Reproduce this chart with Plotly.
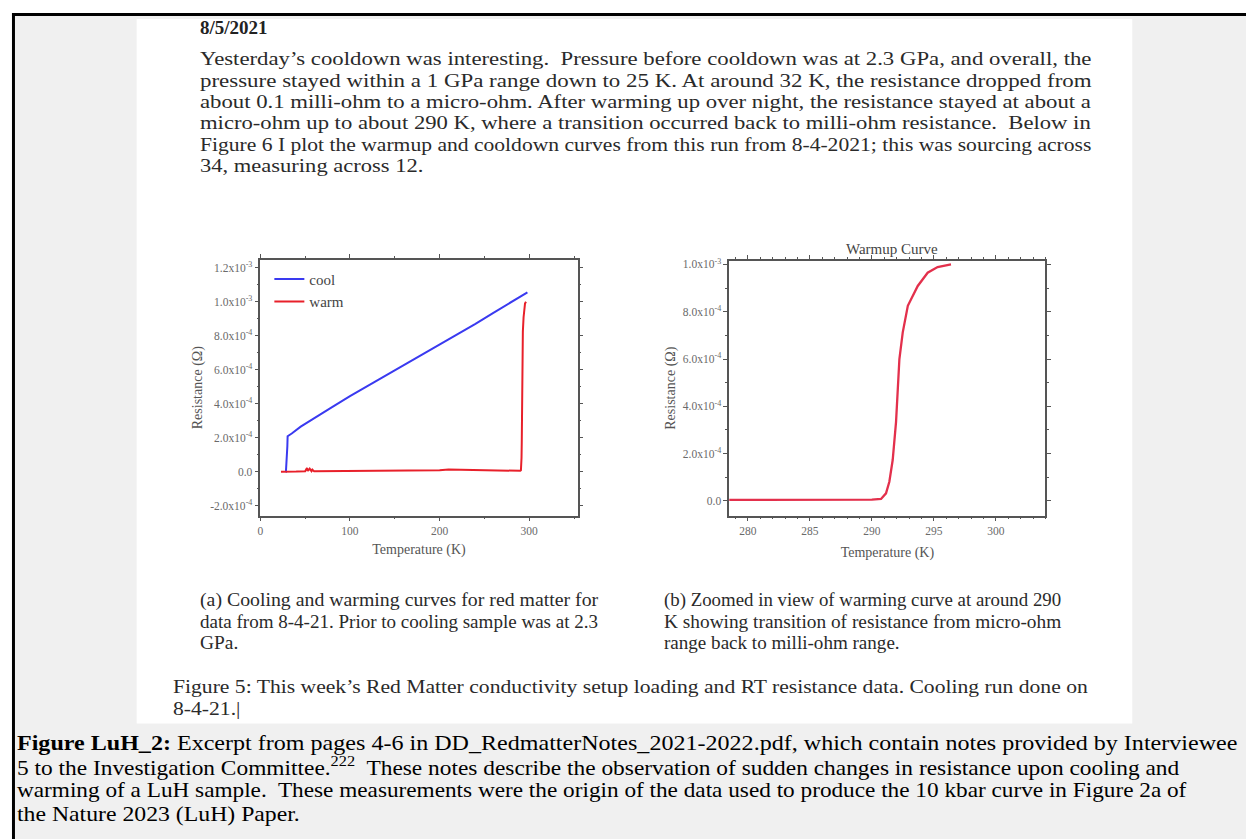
import json
import plotly.graph_objects as go

W, H = 1246, 839

# ---- data: cooldown run (blue) and warmup run (red), 8-4-2021 ----
cool_T = [298, 280, 260, 240, 220, 200, 180, 160, 140, 120, 100, 80, 60, 45, 35,
          30.4, 30.1, 29.9, 29.7, 29.5, 29.3, 29.1, 28.9, 28.7, 28.5, 28.2]
cool_R = [1.055e-3, 1.0e-3, 9.35e-4, 8.7e-4, 8.1e-4, 7.5e-4, 6.9e-4, 6.3e-4, 5.65e-4,
          5.05e-4, 4.45e-4, 3.8e-4, 3.15e-4, 2.65e-4, 2.25e-4,
          2.09e-4, 1.5e-4, 1.2e-4, 1.45e-4, 6e-5, 1.3e-4, 2e-5, 9e-5, 1e-5, 0.0, 0.0]

warm_T = [23, 30, 40, 50, 52, 53, 55, 57, 58, 60, 80, 100, 120, 140, 160, 180, 200,
          210, 220, 230, 240, 250, 260, 270, 280, 285, 288, 290, 290.74, 291.14,
          291.41, 291.68, 291.95, 292.09, 292.22, 292.49, 292.9, 293.7, 294.5,
          295.3, 296.38]
warm_R = [0.0, 2e-6, 1e-6, 3e-6, 2.2e-5, 5e-6, 1.8e-5, 3e-6, 1.2e-5, 2e-6, 3e-6,
          4e-6, 6e-6, 5e-6, 4e-6, 5e-6, 8e-6, 1.3e-5, 1.2e-5, 1.1e-5, 1e-5, 6e-6,
          4e-6, 4e-6, 4e-6, 4e-6, 5e-6, 5e-6, 8e-6, 3.2e-5, 8.1e-5, 1.73e-4,
          3.34e-4, 4.74e-4, 6.0e-4, 7.13e-4, 8.25e-4, 9.09e-4, 9.65e-4, 9.89e-4,
          1.0e-3]

# ---- tick labels ----
a_yticks = [-2e-4, 0, 2e-4, 4e-4, 6e-4, 8e-4, 1.0e-3, 1.2e-3]
a_yticktext = ["-2.0x10<sup>-4</sup>", "0.0", "2.0x10<sup>-4</sup>", "4.0x10<sup>-4</sup>",
               "6.0x10<sup>-4</sup>", "8.0x10<sup>-4</sup>", "1.0x10<sup>-3</sup>",
               "1.2x10<sup>-3</sup>"]
a_xticks = [0, 100, 200, 300]
b_yticks = [0, 2e-4, 4e-4, 6e-4, 8e-4, 1.0e-3]
b_yticktext = ["0.0", "2.0x10<sup>-4</sup>", "4.0x10<sup>-4</sup>", "6.0x10<sup>-4</sup>",
               "8.0x10<sup>-4</sup>", "1.0x10<sup>-3</sup>"]
b_xticks = [280, 285, 290, 295, 300]

# ---- text ----
heading = "8/5/2021"
paragraph = [
    "Yesterday’s cooldown was interesting.  Pressure before cooldown was at 2.3 GPa, and overall, the",
    "pressure stayed within a 1 GPa range down to 25 K. At around 32 K, the resistance dropped from",
    "about 0.1 milli-ohm to a micro-ohm. After warming up over night, the resistance stayed at about a",
    "micro-ohm up to about 290 K, where a transition occurred back to milli-ohm resistance.  Below in",
    "Figure 6 I plot the warmup and cooldown curves from this run from 8-4-2021; this was sourcing across",
    "34, measuring across 12.",
]
caption_a = ["(a) Cooling and warming curves for red matter for",
             "data from 8-4-21. Prior to cooling sample was at 2.3",
             "GPa."]
caption_b = ["(b) Zoomed in view of warming curve at around 290",
             "K showing transition of resistance from micro-ohm",
             "range back to milli-ohm range."]
figure5 = ["Figure 5: This week’s Red Matter conductivity setup loading and RT resistance data. Cooling run done on",
           "8-4-21.|"]
outer_caption = [
    "<b>Figure LuH_2:</b> Excerpt from pages 4-6 in DD_RedmatterNotes_2021-2022.pdf, which contain notes provided by Interviewee",
    "5 to the Investigation Committee.<sup>222</sup>  These notes describe the observation of sudden changes in resistance upon cooling and",
    "warming of a LuH sample.  These measurements were the origin of the data used to produce the 10 kbar curve in Figure 2a of",
    "the Nature 2023 (LuH) Paper.",
]


def px(x):
    return x / W


def py(y):
    return 1 - y / H


fig = go.Figure()

fig.add_trace(go.Scatter(x=cool_T, y=cool_R, mode="lines", name="cool",
                         line=dict(color="#3a3af0", width=2), xaxis="x", yaxis="y"))
fig.add_trace(go.Scatter(x=warm_T, y=warm_R, mode="lines", name="warm",
                         line=dict(color="#e8202a", width=2), xaxis="x", yaxis="y"))
fig.add_trace(go.Scatter(x=warm_T, y=warm_R, mode="lines", name="warm",
                         line=dict(color="#e3304c", width=2.3), xaxis="x2", yaxis="y2",
                         showlegend=False))

plot_family = "Liberation Serif"
tick_font = dict(family=plot_family, size=11.5, color="#6a6a6a")
title_font = dict(family=plot_family, size=14, color="#555555")
axis_common = dict(showline=True, linecolor="#555555", linewidth=1.5, mirror="ticks",
                   ticks="outside", ticklen=4, tickcolor="#555555", showgrid=False,
                   zeroline=False, tickfont=tick_font, title_font=title_font)

fig.update_layout(
    width=W, height=H,
    margin=dict(l=0, r=0, t=0, b=0),
    paper_bgcolor="white",
    plot_bgcolor="white",
    showlegend=True,
    legend=dict(x=px(267), y=py(260), xanchor="left", yanchor="top",
                bgcolor="rgba(0,0,0,0)", font=dict(family=plot_family, size=15, color="#444444"),
                itemwidth=30, tracegroupgap=0),
    xaxis=dict(domain=[px(258), px(576)], range=[0, 354], anchor="y",
               tickmode="array", tickvals=a_xticks,
               minor=dict(ticks="outside", ticklen=2, tickmode="linear", tick0=0, dtick=50,
                          tickcolor="#555555"),
               title=dict(text="Temperature (K)", standoff=8), **axis_common),
    yaxis=dict(domain=[py(514), py(257)], range=[-2.58e-4, 1.247e-3], anchor="x",
               tickmode="array", tickvals=a_yticks, ticktext=a_yticktext,
               minor=dict(ticks="outside", ticklen=2, tickmode="linear", tick0=0, dtick=1e-4,
                          tickcolor="#555555"),
               title=dict(text="Resistance (Ω)", standoff=4), **axis_common),
    xaxis2=dict(domain=[px(728), px(1045)], range=[278.5, 304.0], anchor="y2",
                tickmode="array", tickvals=b_xticks,
                minor=dict(ticks="outside", ticklen=2, tickmode="linear", tick0=280, dtick=1,
                           tickcolor="#555555"),
                title=dict(text="Temperature (K)", standoff=11), **axis_common),
    yaxis2=dict(domain=[py(514), py(258)], range=[-6.2e-5, 1.0156e-3], anchor="x2",
                tickmode="array", tickvals=b_yticks, ticktext=b_yticktext,
                minor=dict(ticks="outside", ticklen=2, tickmode="linear", tick0=0, dtick=1e-4,
                           tickcolor="#555555"),
                title=dict(text="Resistance (Ω)", standoff=4), **axis_common),
)

# grey frame area, white page, black frame lines
shapes = [
    dict(type="rect", xref="paper", yref="paper", x0=px(12), x1=1, y0=0, y1=py(12),
         fillcolor="#f0f0f0", line=dict(width=0), layer="below"),
    dict(type="rect", xref="paper", yref="paper", x0=px(134), x1=px(1132), y0=py(723), y1=py(15),
         fillcolor="white", line=dict(width=0), layer="below"),
    dict(type="rect", xref="paper", yref="paper", x0=px(9), x1=1, y0=py(12), y1=py(9),
         fillcolor="black", line=dict(width=0), layer="above"),
    dict(type="rect", xref="paper", yref="paper", x0=px(9), x1=px(12), y0=0, y1=py(9),
         fillcolor="black", line=dict(width=0), layer="above"),
]
fig.update_layout(shapes=shapes)

annotations = []
# [annotation index, block name, target width in px or None]
fit_spec = []


def add_text(text, x, y, font, anchor="left", block=None, width=None):
    annotations.append(dict(text=text, x=px(x - 5 if anchor == "left" else x), y=py(y),
                            xref="paper", yref="paper", xanchor=anchor, yanchor="middle",
                            align=anchor if anchor != "center" else "center",
                            showarrow=False, font=font))
    if block is not None:
        fit_spec.append([len(annotations) - 1, block, width])


serif = "Liberation Serif"
add_text("<b>" + heading + "</b>", 200, 24, dict(family=serif, size=19, color="#222222"))

notes_font = dict(family=serif, size=19.5, color="#2a2a2a")
for i, line in enumerate(paragraph):
    add_text(line, 200, 55 + i * 21.5, notes_font, block="para",
             width=892 if i < len(paragraph) - 1 else None)

cap_font = dict(family=serif, size=17.8, color="#2a2a2a")
for i, line in enumerate(caption_a):
    add_text(line, 200, 599 + i * 21.6, cap_font, block="capa",
             width=398 if i < len(caption_a) - 1 else None)
for i, line in enumerate(caption_b):
    add_text(line, 666, 599 + i * 21.6, cap_font, block="capb",
             width=397 if i < len(caption_b) - 1 else None)

fig5_font = dict(family=serif, size=19.5, color="#2a2a2a")
for i, line in enumerate(figure5):
    add_text(line, 173, 686 + i * 21.5, fig5_font, block="fig5",
             width=916 if i == 0 else None)

add_text("Warmup Curve", 891, 246, dict(family=plot_family, size=15, color="#444444"),
         anchor="center")

outer_font = dict(family=serif, size=21, color="black")
outer_widths = [1221, 1163, 1170, 283]
for i, line in enumerate(outer_caption):
    add_text(line, 17, 743 + i * 23.6, outer_font, block="outer", width=outer_widths[i])

fig.update_layout(annotations=annotations)

# Widen the text lines horizontally: lines with a width are fitted to it,
# the remaining lines of a block use the block's mean scale.
fit_js = """
var gd = document.getElementById('{plot_id}');
var spec = SPEC;
var items = [];
spec.forEach(function (s) {
  var t = gd.querySelector('g.annotation[data-index="' + s[0] + '"] text.annotation-text');
  if (!t) { return; }
  var bb = t.getBBox();
  items.push({el: t, block: s[1], target: s[2], x0: bb.x, w: bb.width});
});
var sums = {}, counts = {};
items.forEach(function (it) {
  if (it.target && it.w > 0) {
    sums[it.block] = (sums[it.block] || 0) + it.target / it.w;
    counts[it.block] = (counts[it.block] || 0) + 1;
  }
});
items.forEach(function (it) {
  var mean = counts[it.block] ? sums[it.block] / counts[it.block] : 1;
  var f = it.target ? it.target / it.w : mean;
  var prev = it.el.getAttribute('transform') || '';
  it.el.setAttribute('transform', prev + ' translate(' + it.x0 + ',0) scale(' + f + ',1) translate(' + (-it.x0) + ',0)');
});
""".replace("SPEC", json.dumps(fit_spec))

fig.write_html("out.html", post_script=fit_js)
